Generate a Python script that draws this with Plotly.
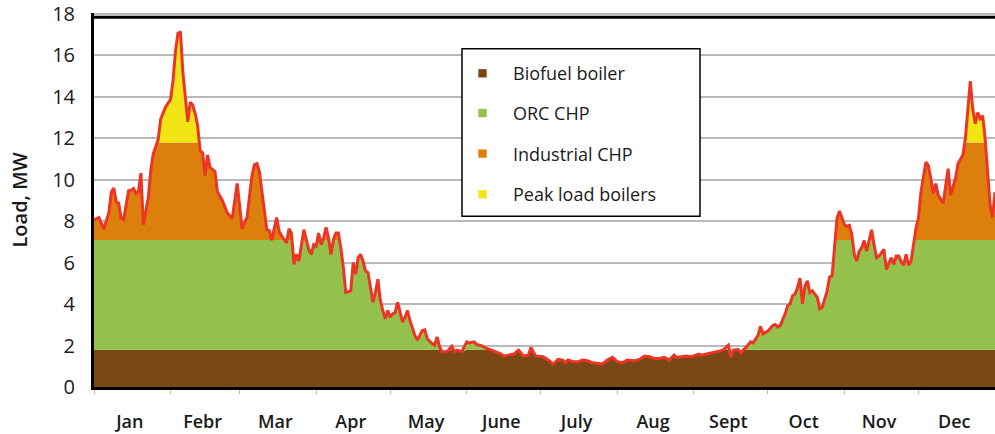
import numpy as np
import plotly.graph_objects as go

# Daily heat load of the district heating network over one year
day = [0, 2, 4, 6, 7, 8, 9, 10, 11, 12, 14, 15, 16, 17, 18, 19, 20, 22, 23, 24,
       25, 26, 27, 29, 31, 32, 33, 34, 35, 36, 37, 38, 39, 40, 41, 42, 43, 44, 45, 46,
       47, 48, 49, 50, 52, 54, 56, 58, 60, 62, 64, 65, 66, 67, 68, 69, 70, 71, 72, 74,
       75, 76, 78, 79, 80, 81, 82, 83, 85, 87, 88, 89, 90, 91, 92, 93, 94, 95, 96, 97,
       98, 99, 100, 101, 102, 104, 105, 106, 107, 108, 109, 110, 111, 113, 114, 115, 116, 117, 118, 119,
       120, 121, 122, 123, 125, 126, 127, 128, 130, 131, 133, 134, 135, 137, 138, 139, 140, 141, 143, 145,
       146, 147, 149, 151, 152, 154, 155, 157, 159, 161, 163, 165, 166, 168, 170, 172, 174, 176, 177, 179,
       180, 182, 184, 186, 188, 190, 191, 192, 194, 196, 198, 200, 202, 204, 206, 208, 210, 212, 214, 216,
       219, 221, 223, 225, 227, 229, 231, 233, 235, 236, 238, 240, 242, 245, 246, 248, 250, 252, 254, 255,
       257, 258, 259, 261, 262, 264, 266, 267, 269, 270, 271, 273, 275, 276, 277, 278, 280, 281, 282, 283,
       284, 285, 286, 287, 288, 289, 290, 291, 293, 294, 295, 297, 298, 299, 300, 301, 302, 303, 304, 305,
       306, 307, 308, 309, 310, 311, 312, 313, 314, 315, 316, 317, 318, 320, 321, 322, 323, 324, 325, 326,
       327, 328, 329, 330, 331, 332, 333, 334, 335, 337, 338, 339, 340, 341, 342, 344, 345, 346, 347, 349,
       350, 351, 352, 353, 354, 355, 356, 357, 358, 359, 360, 361, 362, 363, 364, 365]

load_mw = [8.07, 8.18, 7.63, 8.40, 9.40, 9.60, 8.94, 8.86, 8.15, 8.08, 9.47, 9.50, 9.58, 9.34, 9.42, 10.32, 7.83, 9.15, 10.45, 11.25,
           11.60, 11.95, 12.92, 13.52, 13.88, 14.76, 16.20, 17.07, 17.15, 15.20, 14.00, 12.80, 13.75, 13.60, 13.20, 12.60, 11.40, 11.30, 10.20, 11.20,
           10.60, 10.50, 10.40, 9.42, 9.00, 8.40, 8.13, 9.82, 7.64, 8.20, 10.20, 10.73, 10.78, 10.38, 9.40, 8.65, 7.60, 7.55, 7.09, 8.18,
           7.50, 7.30, 6.95, 7.64, 7.40, 5.92, 6.40, 6.08, 7.59, 6.64, 6.40, 6.87, 6.80, 7.43, 6.87, 7.19, 7.70, 7.19, 6.40, 7.11,
           7.43, 7.43, 6.71, 5.76, 4.56, 4.64, 6.00, 5.44, 6.24, 6.40, 6.08, 5.60, 5.52, 4.09, 4.56, 5.20, 4.17, 3.69, 3.29, 3.69,
           3.37, 3.53, 3.60, 4.09, 3.13, 3.37, 3.69, 3.21, 2.49, 2.26, 2.73, 2.76, 2.33, 2.10, 2.02, 2.41, 1.94, 1.70, 1.70, 1.97,
           1.70, 1.78, 1.70, 2.18, 2.13, 2.18, 2.05, 2.00, 1.86, 1.78, 1.70, 1.59, 1.49, 1.54, 1.59, 1.78, 1.49, 1.54, 1.91, 1.49,
           1.49, 1.46, 1.30, 1.11, 1.33, 1.30, 1.17, 1.30, 1.22, 1.22, 1.30, 1.27, 1.17, 1.14, 1.11, 1.30, 1.43, 1.22, 1.17, 1.30,
           1.27, 1.33, 1.49, 1.46, 1.38, 1.38, 1.43, 1.30, 1.54, 1.43, 1.46, 1.49, 1.46, 1.59, 1.54, 1.59, 1.65, 1.70, 1.75, 1.81,
           2.02, 1.43, 1.78, 1.81, 1.65, 1.90, 2.18, 2.13, 2.49, 2.92, 2.57, 2.70, 2.97, 3.02, 2.89, 2.97, 3.53, 3.93, 4.01, 4.41,
           4.49, 4.80, 5.25, 4.01, 4.88, 5.12, 4.56, 4.64, 4.33, 3.77, 3.85, 4.64, 5.31, 5.36, 6.87, 8.15, 8.50, 8.15, 7.83, 7.75,
           7.80, 7.35, 6.40, 6.08, 6.56, 6.72, 7.07, 6.56, 7.03, 7.59, 6.87, 6.24, 6.32, 6.64, 5.68, 6.00, 6.24, 5.92, 6.32, 6.32,
           6.04, 5.88, 6.40, 5.88, 6.08, 6.87, 7.67, 8.15, 9.42, 10.85, 10.70, 10.06, 9.34, 9.82, 9.26, 8.87, 9.82, 10.54, 9.26, 10.06,
           10.77, 11.01, 11.20, 12.00, 13.40, 14.76, 13.40, 12.70, 13.24, 12.95, 13.10, 12.00, 10.40, 8.80, 8.20, 9.40]

# Production units in merit order and the cumulative load (MW) each one covers up to
units = ["Biofuel boiler", "ORC CHP", "Industrial CHP", "Peak load boilers"]
cumulative_cap_mw = [1.8, 7.1, 11.8, np.inf]
unit_colors = ["#7A4814", "#94C14C", "#DC7F0D", "#F2E516"]
line_color = "#EC3524"

months = ["Jan", "Febr", "Mar", "Apr", "May", "June", "July", "Aug", "Sept", "Oct", "Nov", "Dec"]
month_days = [31, 28, 31, 30, 31, 30, 31, 31, 30, 31, 30, 31]
y_ticks = list(range(0, 19, 2))

month_start = np.concatenate([[0], np.cumsum(month_days)])
month_mid = month_start[:-1] + np.array(month_days) / 2 - 1

load = np.array(load_mw)

# figure geometry (pixels)
W, H = 995, 434
ML, MR, MT, MB = 94, 0, 10, 47
PW, PH = W - ML - MR, H - MT - MB
Y_TOP = 18.05


def px_x(px):
    return (px - ML) / PW


def px_y(py):
    return (H - MB - py) / PH


fig = go.Figure()

# stacked bands: each trace is the load clipped at the cumulative capacity of its unit
for i, (name, cap, color) in enumerate(zip(units, cumulative_cap_mw, unit_colors)):
    level = np.minimum(load, cap)
    fig.add_trace(go.Scatter(
        x=day, y=level, name=name, mode="lines",
        line=dict(width=0, color=color),
        fill="tozeroy" if i == 0 else "tonexty",
        fillcolor=color, hoverinfo="skip", showlegend=False,
    ))

# total load curve
fig.add_trace(go.Scatter(
    x=day, y=load, mode="lines", name="Total load",
    line=dict(color=line_color, width=3), showlegend=False,
))

fig.update_layout(
    width=W, height=H,
    margin=dict(l=ML, r=MR, t=MT, b=MB),
    paper_bgcolor="white", plot_bgcolor="white",
    font=dict(family="Open Sans", color="#1a1a1a"),
    showlegend=False,
)

fig.update_xaxes(
    range=[0, 365], tickvals=month_mid, ticktext=months,
    ticks="", showgrid=False, zeroline=False,
    showline=True, linecolor="black", linewidth=3,
    tickfont=dict(size=18, weight=600, family="Open Sans"),
    ticklabelstandoff=16,
    minor=dict(tickvals=month_start, ticks="outside", ticklen=4,
               tickwidth=1, tickcolor="#F4B04A", showgrid=False),
)

fig.update_yaxes(
    range=[0, Y_TOP], tickmode="array", tickvals=y_ticks,
    ticks="", showgrid=True, gridcolor="#B9B9B9", gridwidth=2, zeroline=False,
    showline=True, linecolor="black", linewidth=3,
    tickfont=dict(size=20, family="Open Sans"),
    ticklabelstandoff=12, ticklabeloverflow="allow",
    title=dict(text="Load, MW", font=dict(size=20, weight=600, family="Open Sans"),
               standoff=20),
)

shapes = []
# top edge of the frame
shapes.append(dict(type="line", xref="paper", yref="paper", x0=0, x1=1,
                   y0=px_y(14.3), y1=px_y(14.3), line=dict(color="black", width=3)))

# legend box
shapes.append(dict(type="rect", xref="paper", yref="paper", layer="above",
                   x0=px_x(462), x1=px_x(700), y0=px_y(215), y1=px_y(46),
                   line=dict(color="black", width=1.5), fillcolor="white"))

annotations = []
row_y = [70.8, 110.8, 151.7, 192.7]
sw = 8.4
for name, color, ry in zip(units, unit_colors, row_y):
    shapes.append(dict(type="rect", xref="paper", yref="paper", layer="above",
                       x0=px_x(482.5 - sw / 2), x1=px_x(482.5 + sw / 2),
                       y0=px_y(ry + sw / 2), y1=px_y(ry - sw / 2),
                       line=dict(width=0), fillcolor=color))
    annotations.append(dict(xref="paper", yref="paper", x=px_x(511), y=px_y(ry),
                            text=name, showarrow=False, xanchor="left", yanchor="middle",
                            font=dict(size=18, family="Open Sans", color="#1a1a1a")))

fig.update_layout(shapes=shapes, annotations=annotations)

fig.write_html("out.html")
